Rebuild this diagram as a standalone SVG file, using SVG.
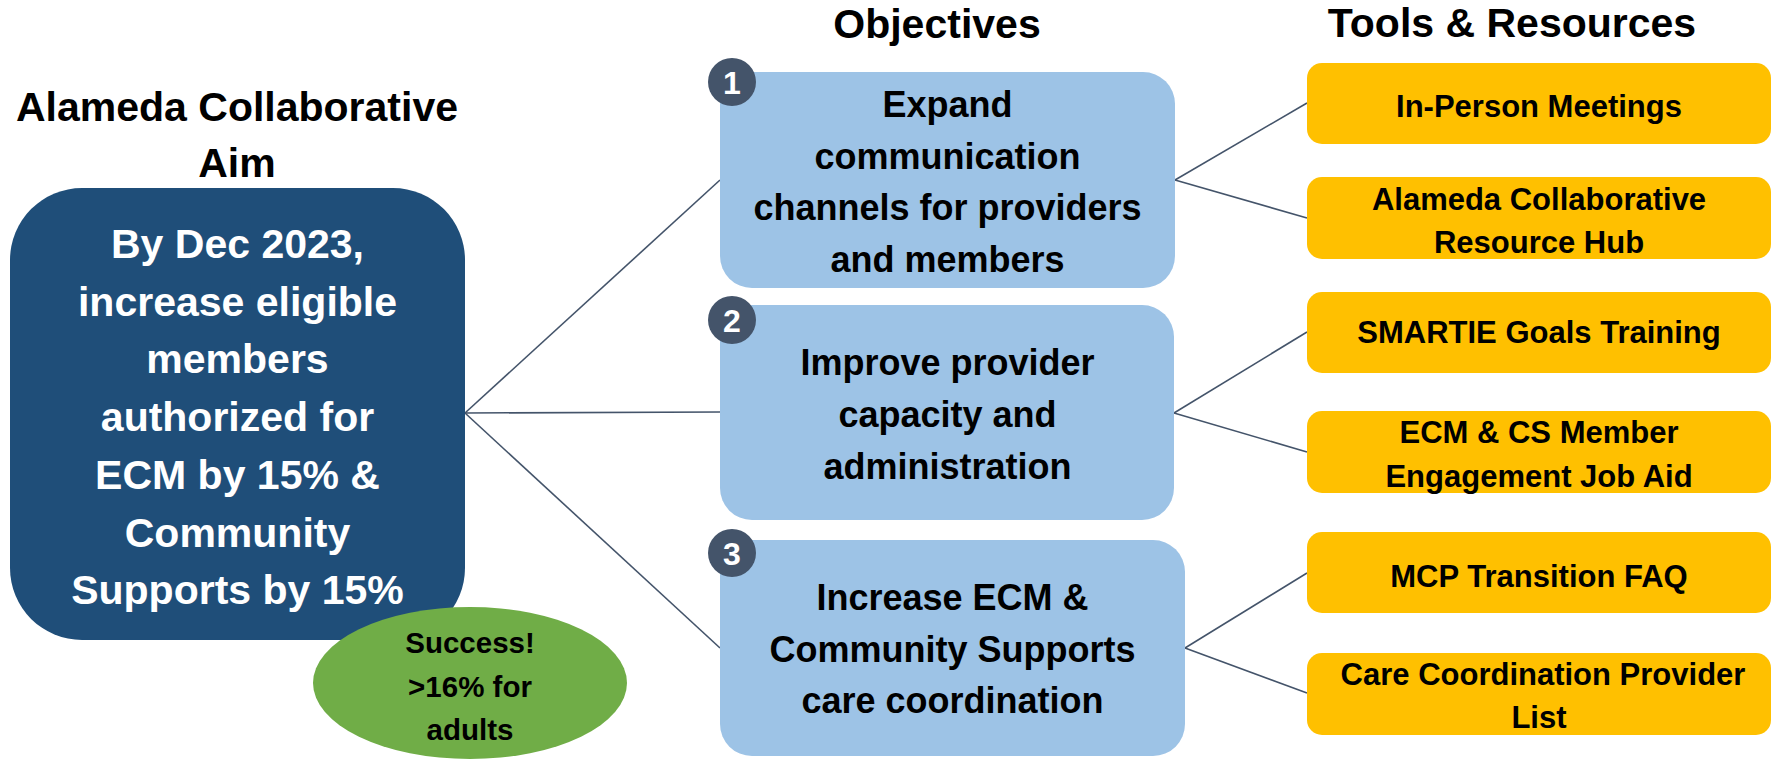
<svg xmlns="http://www.w3.org/2000/svg" width="1779" height="760" viewBox="0 0 1779 760">
  <style>
    text { font-family: "Liberation Sans", Arial, sans-serif; font-weight: bold; text-anchor: middle; }
    .head { font-size: 41px; fill: #000; }
    .aim-text { font-size: 41px; fill: #fff; }
    .obj-text { font-size: 36px; fill: #000; }
    .tool-text { font-size: 31px; fill: #000; }
    .note-text { font-size: 29.5px; fill: #000; }
    .num-text { font-size: 32px; fill: #fff; }
    .aim { fill: #1F4E79; }
    .obj { fill: #9DC3E6; }
    .tool { fill: #FFC000; }
    .note { fill: #70AD47; }
    .badge { fill: #44546A; }
    .link { stroke: #44546A; stroke-width: 1.6; fill: none; }
  </style>

  <!-- column headings -->
  <g id="headings">
    <text class="head" x="237" y="121">Alameda Collaborative</text>
    <text class="head" x="237" y="177">Aim</text>
    <text class="head" x="937" y="38">Objectives</text>
    <text class="head" x="1512" y="37">Tools &amp; Resources</text>
  </g>

  <!-- connectors -->
  <g id="connectors">
    <line class="link" x1="465" y1="413" x2="720" y2="180"/>
    <line class="link" x1="465" y1="413" x2="720" y2="412" stroke-width="2"/>
    <line class="link" x1="465" y1="413" x2="720" y2="648"/>
    <line class="link" x1="1175" y1="180" x2="1307" y2="103"/>
    <line class="link" x1="1175" y1="180" x2="1307" y2="218"/>
    <line class="link" x1="1174" y1="413" x2="1307" y2="332"/>
    <line class="link" x1="1174" y1="413" x2="1307" y2="452"/>
    <line class="link" x1="1185" y1="648" x2="1307" y2="573"/>
    <line class="link" x1="1185" y1="648" x2="1307" y2="693"/>
  </g>

  <!-- aim -->
  <g id="aim">
    <rect class="aim" x="10" y="188" width="455" height="452" rx="72" ry="72"/>
    <text class="aim-text" x="237.5" y="258">By Dec 2023,</text>
    <text class="aim-text" x="237.5" y="315.7">increase eligible</text>
    <text class="aim-text" x="237.5" y="373.4">members</text>
    <text class="aim-text" x="237.5" y="431.1">authorized for</text>
    <text class="aim-text" x="237.5" y="488.8">ECM by 15% &amp;</text>
    <text class="aim-text" x="237.5" y="546.5">Community</text>
    <text class="aim-text" x="237.5" y="604.2">Supports by 15%</text>
  </g>

  <!-- result -->
  <g id="success">
    <ellipse class="note" cx="470" cy="683" rx="157" ry="76"/>
    <text class="note-text" x="470" y="653">Success!</text>
    <text class="note-text" x="470" y="697">&gt;16% for</text>
    <text class="note-text" x="470" y="740">adults</text>
  </g>

  <!-- objectives -->
  <g id="objective-1">
    <rect class="obj" x="720" y="72" width="455" height="216" rx="32" ry="32"/>
    <text class="obj-text" x="947.5" y="117">Expand</text>
    <text class="obj-text" x="947.5" y="168.5">communication</text>
    <text class="obj-text" x="947.5" y="220">channels for providers</text>
    <text class="obj-text" x="947.5" y="272">and members</text>
    <circle class="badge" cx="732" cy="82" r="24"/>
    <text class="num-text" x="732" y="93.5">1</text>
  </g>

  <g id="objective-2">
    <rect class="obj" x="720" y="305" width="454" height="215" rx="32" ry="32"/>
    <text class="obj-text" x="947.5" y="375">Improve provider</text>
    <text class="obj-text" x="947.5" y="427">capacity and</text>
    <text class="obj-text" x="947.5" y="479">administration</text>
    <circle class="badge" cx="732" cy="320" r="24"/>
    <text class="num-text" x="732" y="331.5">2</text>
  </g>

  <g id="objective-3">
    <rect class="obj" x="720" y="540" width="465" height="216" rx="32" ry="32"/>
    <text class="obj-text" x="952.5" y="610">Increase ECM &amp;</text>
    <text class="obj-text" x="952.5" y="662">Community Supports</text>
    <text class="obj-text" x="952.5" y="713">care coordination</text>
    <circle class="badge" cx="732" cy="553" r="24"/>
    <text class="num-text" x="732" y="564.5">3</text>
  </g>

  <!-- tools and resources -->
  <g id="tool-1">
    <rect class="tool" x="1307" y="63" width="464" height="81" rx="15" ry="15"/>
    <text class="tool-text" x="1539" y="117">In-Person Meetings</text>
  </g>
  <g id="tool-2">
    <rect class="tool" x="1307" y="177" width="464" height="82" rx="15" ry="15"/>
    <text class="tool-text" x="1539" y="210">Alameda Collaborative</text>
    <text class="tool-text" x="1539" y="253">Resource Hub</text>
  </g>
  <g id="tool-3">
    <rect class="tool" x="1307" y="292" width="464" height="81" rx="15" ry="15"/>
    <text class="tool-text" x="1539" y="343">SMARTIE Goals Training</text>
  </g>
  <g id="tool-4">
    <rect class="tool" x="1307" y="411" width="464" height="82" rx="15" ry="15"/>
    <text class="tool-text" x="1539" y="443">ECM &amp; CS Member</text>
    <text class="tool-text" x="1539" y="487">Engagement Job Aid</text>
  </g>
  <g id="tool-5">
    <rect class="tool" x="1307" y="532" width="464" height="81" rx="15" ry="15"/>
    <text class="tool-text" x="1539" y="587">MCP Transition FAQ</text>
  </g>
  <g id="tool-6">
    <rect class="tool" x="1307" y="653" width="464" height="82" rx="15" ry="15"/>
    <text class="tool-text" x="1543" y="685">Care Coordination Provider</text>
    <text class="tool-text" x="1539" y="728">List</text>
  </g>
</svg>
